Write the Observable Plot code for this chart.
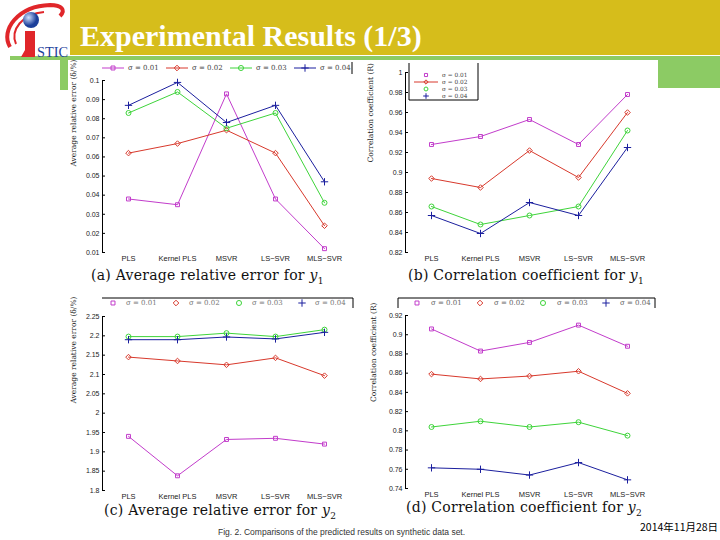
<!DOCTYPE html>
<html><head><meta charset="utf-8">
<script src="https://cdn.jsdelivr.net/npm/d3@7"></script>
<script src="https://cdn.jsdelivr.net/npm/@observablehq/plot@0.6"></script>
<style>
body{margin:0;background:#fff;}
#slide{position:relative;width:720px;height:540px;overflow:hidden;background:#fff;font-family:"Liberation Sans",Arial,sans-serif;}
.abs{position:absolute;}
.cap{position:absolute;font-family:"DejaVu Serif",serif;font-size:14px;line-height:16px;color:#111;white-space:nowrap;letter-spacing:0.25px;}
</style></head><body><div id="slide"></div>
<script>
// ---------- data ----------
const methods = ["PLS", "Kernel PLS", "MSVR", "LS\u2212SVR", "MLS\u2212SVR"];
const sigmaLabels = ["\u03c3 = 0.01", "\u03c3 = 0.02", "\u03c3 = 0.03", "\u03c3 = 0.04"];
const seriesColors = ["#c23ccb", "#d8392c", "#3ed43a", "#1b1f9e"];
const seriesSymbols = ["square2", "diamond2", "circle", "plus"];

// (a) average relative error for y1, one row per sigma
const errY1 = [
  [0.038, 0.035, 0.093, 0.038, 0.012],
  [0.062, 0.067, 0.074, 0.062, 0.024],
  [0.083, 0.094, 0.075, 0.083, 0.036],
  [0.087, 0.099, 0.078, 0.087, 0.047]
];
// (b) correlation coefficient for y1
const corrY1 = [
  [0.928, 0.936, 0.953, 0.928, 0.978],
  [0.894, 0.885, 0.922, 0.895, 0.960],
  [0.866, 0.848, 0.857, 0.866, 0.942],
  [0.857, 0.839, 0.870, 0.857, 0.925]
];
// (c) average relative error for y2
const errY2 = [
  [1.940, 1.838, 1.932, 1.935, 1.920],
  [2.145, 2.135, 2.125, 2.143, 2.097],
  [2.198, 2.198, 2.207, 2.198, 2.216],
  [2.190, 2.190, 2.197, 2.192, 2.209]
];
// (d) correlation coefficient for y2
const corrY2 = [
  [0.906, 0.883, 0.892, 0.910, 0.888],
  [0.859, 0.854, 0.857, 0.862, 0.839],
  [0.804, 0.810, 0.804, 0.809, 0.795],
  [0.7615, 0.760, 0.754, 0.767, 0.749]
];
const ticksErrY1 = [0.01, 0.02, 0.03, 0.04, 0.05, 0.06, 0.07, 0.08, 0.09, 0.1];
const ticksCorrY1 = [0.82, 0.84, 0.86, 0.88, 0.9, 0.92, 0.94, 0.96, 0.98, 1];
const ticksErrY2 = [1.8, 1.85, 1.9, 1.95, 2, 2.05, 2.1, 2.15, 2.2, 2.25];
const ticksCorrY2 = [0.74, 0.76, 0.78, 0.8, 0.82, 0.84, 0.86, 0.88, 0.9, 0.92];
const labelErr = "Average relative error (\u03b4/%)";
const labelCorr = "Correlation coefficient (R)";
const slideTitle = "Experimental Results (1/3)";
const figCaption = "Fig. 2. Comparisons of the predicted results on synthetic data set.";
const dateText = "2014\u5e7411\u670828\u65e5";

// ---------- slide chrome ----------
const slide = d3.select("#slide");
const chrome = slide.append("svg").attr("class","abs").attr("width",720).attr("height",540)
  .style("left","0px").style("top","0px");
chrome.append("rect").attr("x",70).attr("y",0).attr("width",650).attr("height",55).attr("fill","#d6bd1b");
chrome.append("rect").attr("x",10).attr("y",56).attr("width",710).attr("height",4).attr("fill","#8ccb64");
chrome.append("rect").attr("x",60).attr("y",60).attr("width",8).attr("height",30).attr("fill","#8ccb64");
chrome.append("rect").attr("x",658).attr("y",60).attr("width",62).attr("height",28).attr("fill","#8ccb64");
// logo
const defs = chrome.append("defs");
const rg = defs.append("radialGradient").attr("id","ball").attr("cx","35%").attr("cy","35%");
rg.append("stop").attr("offset","0%").attr("stop-color","#cfe0ff");
rg.append("stop").attr("offset","100%").attr("stop-color","#1c3f9a");
chrome.append("path").attr("d","M10,47 C0,30 18,6 50,5 C62,5 66,10 60,16").attr("fill","none").attr("stroke","#e0262a").attr("stroke-width",4);
chrome.append("path").attr("d","M16,44 C10,30 22,14 44,12").attr("fill","none").attr("stroke","#e0262a").attr("stroke-width",2);
chrome.append("circle").attr("cx",31).attr("cy",20).attr("r",8).attr("fill","url(#ball)");
chrome.append("path").attr("d","M25,31 L35,31 L35,57 L21,57 L25,50 Z").attr("fill","#e0262a");
chrome.append("text").attr("x",37).attr("y",57).attr("font-family","Liberation Serif").attr("font-size",14)
  .attr("fill","#1d3f9c").attr("textLength",31).attr("lengthAdjust","spacingAndGlyphs").text("STIC");
chrome.append("text").attr("x",80).attr("y",46).attr("font-family","Liberation Serif").attr("font-weight","bold")
  .attr("font-size",30).attr("fill","#fff").text(slideTitle);

// ---------- panels ----------
function panel(values, {yDomain, yTicks, yLabel, axisX, axisTop, frameBottom, labelOffset}) {
  const rows = values.flatMap((vs, s) => vs.map((v, i) => ({method: methods[i], value: v, series: sigmaLabels[s]})));
  const ml = 45, mt = 12, mr = 8, mb = 22, fw = 247;
  const plot = Plot.plot({
    width: ml + fw + mr, height: mt + (frameBottom - axisTop) + mb,
    marginLeft: ml, marginTop: mt, marginRight: mr, marginBottom: mb,
    style: {background: "transparent", fontFamily: "Liberation Sans, Arial, sans-serif", fontSize: "7px", color: "#222", overflow: "visible"},
    x: {type: "point", domain: methods, padding: 0.52},
    y: {domain: yDomain},
    color: {domain: sigmaLabels, range: seriesColors},
    symbol: {domain: sigmaLabels, range: seriesSymbols},
    marks: [
      Plot.frame({anchor: "left", stroke: "#000"}),
      Plot.axisY({ticks: yTicks, tickFormat: d3.format("~g"), tickSize: -3, tickPadding: 6, label: null, stroke: "#000", fontSize: 7}),
      Plot.axisX({tickSize: 0, tickPadding: 3, label: null, fontSize: 7.5}),
      Plot.line(rows, {x: "method", y: "value", z: "series", stroke: "series", strokeWidth: 1}),
      Plot.dot(rows, {x: "method", y: "value", symbol: "series", stroke: "series", fill: "none", r: 2.5, strokeWidth: 1}),
      Plot.text([yLabel], {text: d => d, frameAnchor: "left", rotate: -90, dx: -labelOffset, fontFamily: "DejaVu Serif", fontSize: 7.5, fill: "#222"})
    ]
  });
  plot.style.position = "absolute";
  plot.style.left = (axisX - ml) + "px";
  plot.style.top = (axisTop - mt) + "px";
  slide.node().appendChild(plot);
}
panel(errY1, {yDomain: [0.01, 0.1], yTicks: ticksErrY1, yLabel: labelErr, axisX: 102, axisTop: 80, frameBottom: 252, labelOffset: 29});
panel(corrY1, {yDomain: [0.82, 1], yTicks: ticksCorrY1, yLabel: labelCorr, axisX: 405, axisTop: 72, frameBottom: 252, labelOffset: 35});
panel(errY2, {yDomain: [1.8, 2.25], yTicks: ticksErrY2, yLabel: labelErr, axisX: 102, axisTop: 316, frameBottom: 490, labelOffset: 29});
panel(corrY2, {yDomain: [0.74, 0.92], yTicks: ticksCorrY2, yLabel: labelCorr, axisX: 405, axisTop: 315, frameBottom: 488, labelOffset: 32});

// ---------- legends ----------
const overlay = slide.append("svg").attr("class","abs").attr("width",720).attr("height",540)
  .style("left","0px").style("top","0px").style("pointer-events","none");
const d3Symbols = [d3.symbolSquare2, d3.symbolDiamond2, d3.symbolCircle, d3.symbolPlus];
function marker(g, i, x, y, size) {
  g.append("path").attr("d", d3.symbol(d3Symbols[i], size)()).attr("transform", `translate(${x},${y})`)
    .attr("fill","none").attr("stroke", seriesColors[i]).attr("stroke-width",1);
}
function rowLegend({x0, y, step, line, lineLen, textDx, textColor}) {
  const g = overlay.append("g");
  sigmaLabels.forEach((lab, i) => {
    const x = x0 + i * step;
    if (line) g.append("line").attr("x1", x).attr("x2", x + lineLen).attr("y1", y).attr("y2", y)
      .attr("stroke", seriesColors[i]).attr("stroke-width", 1);
    marker(g, i, line ? x + lineLen / 2 : x, y, 20);
    g.append("text").attr("x", (line ? x + lineLen : x) + textDx).attr("y", y).attr("dy", "0.35em")
      .attr("font-family", "DejaVu Serif").attr("font-size", 7).attr("fill", textColor).text(lab);
  });
  return g;
}
const la = rowLegend({x0: 102, y: 68, step: 64, line: true, lineLen: 22, textDx: 4, textColor: "#444"});
la.append("line").attr("x1",352).attr("x2",352).attr("y1",62).attr("y2",74).attr("stroke","#000");
const lc = rowLegend({x0: 113, y: 303, step: 63, line: false, textDx: 13, textColor: "#777"});
lc.append("path").attr("d","M102,298 L353,298 L353,308").attr("fill","none").attr("stroke","#000");
const ld = rowLegend({x0: 417, y: 303, step: 63, line: false, textDx: 14, textColor: "#666"});
ld.append("path").attr("d","M398,308 L398,298 L655,298 L655,308").attr("fill","none").attr("stroke","#000");
// (b) boxed legend
const lb = overlay.append("g");
lb.append("path").attr("d","M409,63 L409,100 L478,100 L478,63").attr("fill","none").attr("stroke","#000");
sigmaLabels.forEach((lab, i) => {
  const y = 75 + i * 7;
  if (i === 1) lb.append("line").attr("x1",414).attr("x2",438).attr("y1",y).attr("y2",y).attr("stroke",seriesColors[i]);
  marker(lb, i, 426, y, 12);
  lb.append("text").attr("x",442).attr("y",y).attr("dy","0.35em").attr("font-family","DejaVu Serif")
    .attr("font-size",5.8).attr("fill","#444").text(lab);
});

// ---------- captions ----------
const caps = [
  {html: "(a) Average relative error for <i>y</i><sub style='font-size:9px;line-height:0'>1</sub>", x: 91, y: 267},
  {html: "(b) Correlation coefficient for <i>y</i><sub style='font-size:9px;line-height:0'>1</sub>", x: 408, y: 267},
  {html: "(c) Average relative error for <i>y</i><sub style='font-size:9px;line-height:0'>2</sub>", x: 104, y: 502},
  {html: "(d) Correlation coefficient for <i>y</i><sub style='font-size:9px;line-height:0'>2</sub>", x: 406, y: 499}
];
caps.forEach(c => slide.append("div").attr("class","cap").style("left", c.x+"px").style("top", c.y+"px").html(c.html));
slide.append("div").attr("class","abs").style("left","218px").style("top","527px")
  .style("font-family","Liberation Sans, Arial").style("font-size","8.5px").style("color","#333").text(figCaption);
slide.append("div").attr("class","abs").style("left","640px").style("top","521px").style("line-height","12px")
  .style("font-family","Noto Sans CJK SC, sans-serif").style("font-size","10.5px").style("color","#000").text(dateText);
</script></body></html>
